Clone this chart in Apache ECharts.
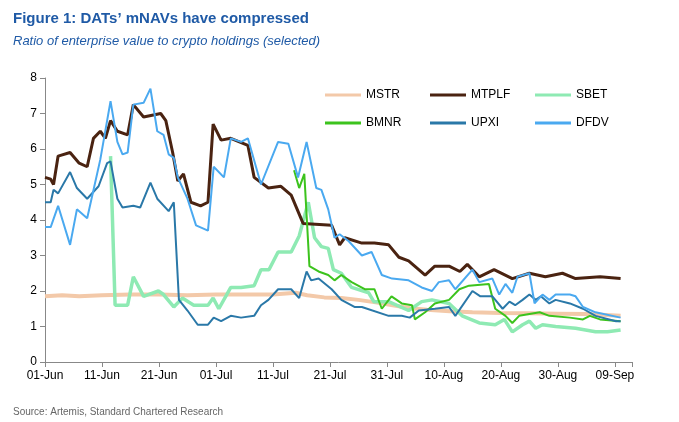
<!DOCTYPE html>
<html><head><meta charset="utf-8">
<script src="https://cdn.jsdelivr.net/npm/echarts@6/dist/echarts.min.js"></script>
<style>html,body{margin:0;padding:0;background:#fff}#c{width:679px;height:422px}</style>
</head><body><div id="c"></div>
<script>
// x = day index from 01-Jun
const tickLabels = ['01-Jun','11-Jun','21-Jun','01-Jul','11-Jul','21-Jul','31-Jul','10-Aug','20-Aug','30-Aug','09-Sep'];
const MSTR = [[0,1.85],[3,1.88],[6,1.85],[10,1.88],[15,1.9],[20,1.9],[25,1.88],[30,1.9],[35,1.9],[40,1.9],[44,1.95],[46,1.88],[49,1.82],[52,1.8],[55,1.75],[58,1.68],[61,1.6],[64,1.52],[67,1.47],[71,1.43],[75,1.4],[80,1.38],[85,1.37],[90,1.36],[95,1.35],[101,1.3]];
const MTPLF = [[0,5.2],[1,5.15],[1.5,5.0],[2.3,5.8],[4.4,5.9],[6,5.6],[7.4,5.5],[8.5,6.3],[9.7,6.5],[10.6,6.3],[11.5,6.8],[12.7,6.5],[14.5,6.4],[15.5,7.25],[17.3,6.9],[20.3,7.0],[21.2,6.8],[22.4,5.9],[23.3,5.1],[24.3,5.3],[25.6,4.5],[27.3,4.4],[28.6,4.5],[29.5,6.7],[30.9,6.25],[32.6,6.3],[35.6,6.1],[36.7,5.2],[39.2,4.9],[41.4,4.95],[43.2,4.7],[45.3,3.9],[50.3,3.85],[51.7,3.3],[52.6,3.5],[55.6,3.35],[57.8,3.35],[60.3,3.3],[62.1,2.95],[63.8,2.85],[66.7,2.45],[68.4,2.7],[70.9,2.7],[72.8,2.55],[74.1,2.75],[76.2,2.4],[78.8,2.6],[82,2.35],[85,2.5],[87.8,2.4],[90.8,2.5],[93.1,2.35],[97.4,2.4],[101,2.35]];
const SBET = [[11.5,5.8],[12.3,1.6],[14.5,1.6],[15.5,2.4],[17.3,1.85],[19.9,2.0],[20.8,1.9],[22.6,1.55],[24.1,1.8],[26.1,1.6],[28.6,1.6],[29.5,1.8],[30.5,1.5],[32.6,2.1],[34.4,2.1],[36.7,2.15],[37.9,2.6],[39.3,2.6],[40.9,3.1],[43.2,3.1],[44.6,3.55],[46.2,4.5],[47.3,3.5],[48.5,3.25],[49.7,3.2],[50.6,2.6],[52,2.5],[53.8,2.1],[56.8,1.95],[57.7,1.7],[60.3,1.7],[63.8,1.45],[66.1,1.7],[67.9,1.75],[70.9,1.65],[73.2,1.3],[76.2,1.1],[79,1.05],[80.6,1.2],[82,0.85],[83.8,1.05],[85,1.15],[86.1,0.95],[87.3,1.05],[89.6,1.0],[93.1,0.95],[96.6,0.85],[98.7,0.85],[101,0.9]];
const BMNR = [[43.7,5.4],[44.6,4.9],[45.5,5.3],[46.4,2.7],[48,2.55],[49.7,2.45],[50.8,2.3],[52,2.45],[53.8,2.25],[56.1,2.05],[57.8,2.05],[59.1,1.5],[60.8,1.85],[62.6,1.65],[64.4,1.6],[64.9,1.2],[66.7,1.4],[68.4,1.65],[70.9,1.75],[72.7,2.05],[74.4,2.15],[77.9,2.2],[79,1.5],[80.8,1.3],[82,1.1],[83.2,1.3],[85,1.35],[86.8,1.4],[88.5,1.3],[92.1,1.25],[94.4,1.2],[95.6,1.3],[97.4,1.2],[101,1.15]];
const UPXI = [[0,4.5],[1,4.5],[1.5,4.85],[2.3,4.75],[4.4,5.35],[5.6,4.9],[7.4,4.6],[9.4,4.95],[10.9,5.6],[11.5,5.65],[12.7,4.6],[13.6,4.35],[15.5,4.4],[16.7,4.35],[18.5,5.05],[19.7,4.6],[21.7,4.25],[22.6,4.5],[23.5,1.75],[25,1.45],[26.8,1.05],[28.6,1.05],[29.6,1.25],[30.9,1.15],[32.6,1.3],[34.4,1.25],[36.7,1.3],[37.9,1.6],[39.2,1.75],[40.9,2.05],[43.2,2.05],[44.6,1.8],[45.9,2.55],[46.7,2.3],[48,2.35],[50.3,2.05],[52,1.75],[54.3,1.55],[55.6,1.55],[60.3,1.3],[62.6,1.3],[64,1.25],[65.6,1.45],[68.4,1.5],[70.9,1.55],[72,1.3],[75,2.0],[76.4,1.85],[78.5,1.85],[80.3,1.5],[81.5,1.7],[82.5,1.6],[83.8,1.75],[85,1.9],[86.1,1.75],[87,1.85],[88.5,1.65],[89.6,1.75],[92.1,1.65],[94.4,1.5],[96.6,1.3],[100.2,1.15],[101,1.15]];
const DFDV = [[0,3.8],[1,3.8],[2.3,4.4],[4.4,3.3],[5.6,4.3],[7.4,4.05],[9.7,5.7],[11.5,7.35],[12.7,6.2],[13.6,5.85],[14.5,5.9],[15.5,7.25],[17.3,7.3],[18.5,7.7],[19.7,6.5],[20.8,6.4],[21.7,5.85],[22.6,5.75],[23.3,5.2],[25,4.6],[26.5,3.85],[28.6,3.7],[29.6,5.5],[31.4,5.2],[32.6,6.3],[34.4,6.2],[35.6,6.3],[37.9,5.0],[40.9,6.2],[42.7,6.15],[44.4,5.2],[45.9,6.2],[47.6,4.9],[48.5,4.85],[49.7,4.3],[50.8,3.5],[51.7,3.6],[53.3,3.4],[55.6,3.0],[57.3,3.1],[59.1,2.45],[60.9,2.35],[63.8,2.3],[66.1,2.1],[67.9,2.0],[69.1,2.25],[70.9,2.3],[72,2.05],[75,2.6],[76.2,2.25],[78.5,2.35],[79.7,1.9],[80.8,2.2],[82,1.95],[82.9,2.4],[85,2.5],[85.9,1.65],[87.3,1.9],[88.5,1.75],[89.6,1.9],[92.1,1.9],[93.1,1.85],[94.4,1.55],[96.6,1.4],[101,1.25]];

const mk=(name,data,color,w)=>({name,type:'line',data,showSymbol:false,symbol:'none',lineStyle:{color,width:w},itemStyle:{color},z:w>3?1:2});
const legendBase={icon:'rect',orient:'vertical',itemWidth:36,itemHeight:3,itemGap:16,top:84,textStyle:{fontFamily:'Liberation Sans',fontSize:12,color:'#000'}};
const chart=echarts.init(document.getElementById('c'));
chart.setOption({
  animation:false,
  title:[
    {text:"Figure 1: DATs’ mNAVs have compressed",left:8,top:6,textStyle:{fontFamily:'Liberation Sans',fontSize:15,fontWeight:'bold',color:'#1f5aa6'}},
    {text:'Ratio of enterprise value to crypto holdings (selected)',left:8,top:30,textStyle:{fontFamily:'Liberation Sans',fontSize:13,fontStyle:'italic',fontWeight:'normal',color:'#1f5aa6'}},
    {text:'Source: Artemis, Standard Chartered Research',left:8,top:402,textStyle:{fontFamily:'Liberation Sans',fontSize:10,fontWeight:'normal',color:'#666'}}
  ],
  legend:[
    Object.assign({},legendBase,{left:320,data:['MSTR','BMNR']}),
    Object.assign({},legendBase,{left:425,data:['MTPLF','UPXI']}),
    Object.assign({},legendBase,{left:530,data:['SBET','DFDV']})
  ],
  grid:{left:45,right:47,top:78,bottom:60},
  xAxis:{type:'value',min:0,max:103,interval:10,
    axisLine:{lineStyle:{color:'#888'}},axisTick:{show:true,lineStyle:{color:'#888'}},splitLine:{show:false},
    axisLabel:{color:'#000',fontFamily:'Liberation Sans',fontSize:12,formatter:v=>tickLabels[v/10]||''}},
  yAxis:{type:'value',min:0,max:8,interval:1,
    axisLine:{show:true,lineStyle:{color:'#888'}},axisTick:{show:true,lineStyle:{color:'#888'}},splitLine:{show:false},
    axisLabel:{color:'#000',fontFamily:'Liberation Sans',fontSize:12}},
  series:[
    mk('MSTR',MSTR,'#f3c9a9',4),
    mk('MTPLF',MTPLF,'#4a2311',3),
    mk('SBET',SBET,'#8eeab3',3.5),
    mk('BMNR',BMNR,'#3cc31d',2),
    mk('UPXI',UPXI,'#2a78a8',2),
    mk('DFDV',DFDV,'#4aa9f0',2)
  ]
});
</script></body></html>
